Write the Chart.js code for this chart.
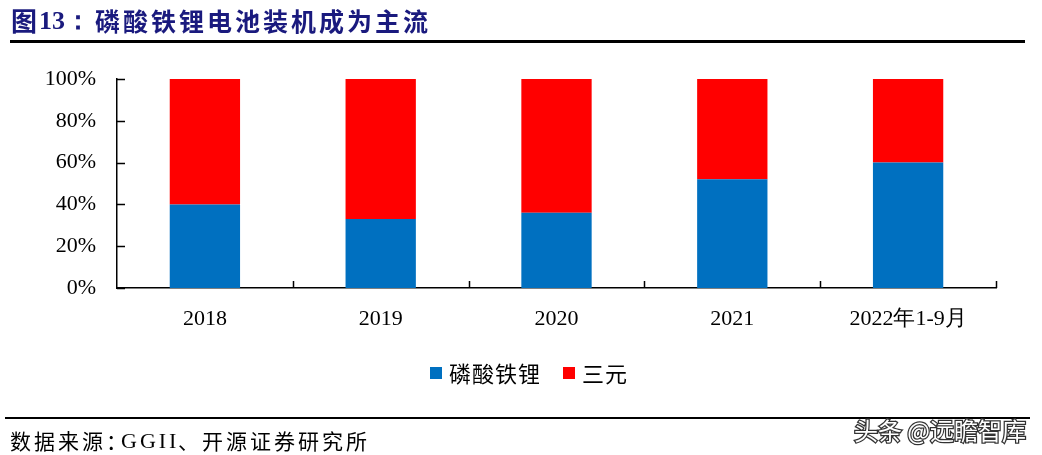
<!DOCTYPE html>
<html>
<head>
<meta charset="utf-8">
<script src="https://cdn.jsdelivr.net/npm/chart.js@4"></script>
<style>
  body { margin: 0; background: #fff; }
  #wrap { width: 1042px; height: 455px; position: relative; }
</style>
</head>
<body>
<div id="wrap"><canvas id="chart"></canvas></div>
<script>
// --- DATA ---
const categories = ['2018', '2019', '2020', '2021', '2022年1-9月'];
const lfpShare = [40, 33, 36, 52, 60];      // 磷酸铁锂
const ncmShare = [60, 67, 64, 48, 40];      // 三元
const seriesNames = ['磷酸铁锂', '三元'];
const yTicks = [0, 20, 40, 60, 80, 100];

const titleText = '图13：磷酸铁锂电池装机成为主流';
const watermark = '头条 @远瞻智库';

const serif = '"Liberation Serif", "Times New Roman", serif';
const cjk = '"Noto Sans CJK SC", sans-serif';

// --- DECORATION PLUGIN: title, rules, inside ticks, legend, footer ---
const decor = {
    id: 'decor',
    afterDraw(chart) {
        const ctx = chart.ctx;
        const x = chart.scales.x;
        const y = chart.scales.y;
        const area = chart.chartArea;
        ctx.save();

        // title
        ctx.fillStyle = '#1a1a7e';
        ctx.textBaseline = 'middle';
        ctx.textAlign = 'left';
        ctx.font = 'bold 26px ' + cjk;
        ctx.fillText('图', 11, 21);
        ctx.font = 'bold 26px ' + serif;
        ctx.fillText('13：', 39, 22);
        ctx.font = 'bold 25px ' + cjk;
        ctx.letterSpacing = '3px';
        ctx.fillText(titleText.slice(4), 95, 21);
        ctx.letterSpacing = '0px';

        // title rule
        ctx.fillStyle = '#000';
        ctx.fillRect(10, 40, 1015, 3);

        // inside ticks on y axis
        ctx.strokeStyle = '#000';
        ctx.lineWidth = 1.5;
        ctx.beginPath();
        yTicks.forEach(v => {
            const py = Math.round(y.getPixelForValue(v)) + 0.5;
            ctx.moveTo(area.left, py);
            ctx.lineTo(area.left + 8, py);
        });
        // inside ticks on x axis, at category boundaries
        const step = (area.right - area.left) / categories.length;
        for (let i = 1; i <= categories.length; i++) {
            const px = Math.round(x.getPixelForValue(i - 1) + step / 2) + 0.5;
            ctx.moveTo(px, area.bottom);
            ctx.lineTo(px, area.bottom - 7);
        }
        ctx.stroke();

        // legend
        const colors = chart.data.datasets.map(d => d.backgroundColor);
        const legendX = [430, 563];
        ctx.font = '22px ' + cjk;
        ctx.textBaseline = 'middle';
        ctx.letterSpacing = '1px';
        seriesNames.forEach((name, i) => {
            ctx.fillStyle = colors[i];
            ctx.fillRect(legendX[i], 367, 12, 12);
            ctx.fillStyle = '#000';
            ctx.fillText(name, legendX[i] + 19, 374);
        });
        ctx.letterSpacing = '0px';

        // footer rule
        ctx.fillStyle = '#000';
        ctx.fillRect(5, 417, 1025, 2);

        // source: CJK parts and the latin "GGII" in serif
        ctx.fillStyle = '#000';
        ctx.letterSpacing = '3px';
        ctx.font = '21px ' + cjk;
        ctx.fillText('数据来源：', 10, 441);
        ctx.font = '22px ' + serif;
        ctx.fillText('GGII', 121, 442);
        ctx.font = '21px ' + cjk;
        ctx.fillText('、开源证券研究所', 178, 441);
        ctx.letterSpacing = '0px';

        // watermark
        ctx.font = '24px ' + cjk;
        ctx.textAlign = 'right';
        ctx.lineWidth = 2.5;
        ctx.strokeStyle = '#333';
        ctx.strokeText(watermark, 1026, 431);
        ctx.fillStyle = '#fff';
        ctx.fillText(watermark, 1026, 431);

        ctx.restore();
    }
};

// --- CHART ---
new Chart(document.getElementById('chart'), {
    type: 'bar',
    data: {
        labels: categories,
        datasets: [
            { label: seriesNames[0], data: lfpShare, backgroundColor: '#0070c0', barPercentage: 0.4, categoryPercentage: 1 },
            { label: seriesNames[1], data: ncmShare, backgroundColor: '#ff0000', barPercentage: 0.4, categoryPercentage: 1 }
        ]
    },
    options: {
        responsive: true,
        maintainAspectRatio: false,
        animation: false,
        layout: { padding: { left: 0, top: 79, right: 46, bottom: 107 } },
        plugins: {
            legend: { display: false },
            tooltip: { enabled: false }
        },
        scales: {
            x: {
                stacked: true,
                grid: { display: false, drawTicks: false },
                border: { display: true, color: '#000', width: 1.5 },
                ticks: {
                    color: '#000',
                    font: { family: serif, size: 22 },
                    padding: 18,
                    maxRotation: 0,
                    autoSkip: false
                },
                afterFit(scale) { scale.height = 60; }
            },
            y: {
                stacked: true,
                min: 0,
                max: 100,
                grid: { display: false, drawTicks: false },
                border: { display: true, color: '#000', width: 1.5 },
                ticks: {
                    stepSize: 20,
                    color: '#000',
                    font: { family: serif, size: 22 },
                    padding: 21,
                    callback: v => v + '%'
                },
                afterFit(scale) { scale.width = 117; }
            }
        }
    },
    plugins: [decor]
});
</script>
</body>
</html>
